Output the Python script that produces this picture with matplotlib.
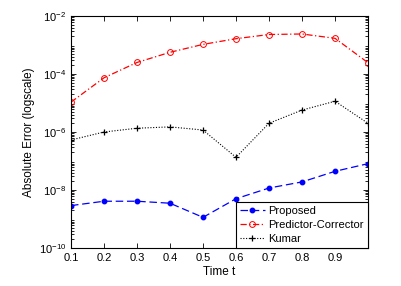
import math
import matplotlib
matplotlib.use("Agg")
import matplotlib.pyplot as plt
from matplotlib.ticker import LogLocator, NullFormatter

plt.rcParams['font.family'] = ['Liberation Sans', 'DejaVu Sans']
plt.rcParams['mathtext.default'] = 'regular'

t = [0.1, 0.2, 0.3, 0.4, 0.5, 0.6, 0.7, 0.8, 0.9, 1.0]
proposed = [2.9e-9, 4.1e-9, 4.1e-9, 3.5e-9, 1.14e-9, 5.0e-9, 1.17e-8, 1.9e-8, 4.4e-8, 8.1e-8]
pred_corr = [1.07e-5, 7.4e-5, 2.5e-4, 5.6e-4, 1.05e-3, 1.65e-3, 2.3e-3, 2.4e-3, 1.7e-3, 2.45e-4]
kumar = [5.3e-7, 1.0e-6, 1.35e-6, 1.5e-6, 1.17e-6, 1.34e-7, 2.0e-6, 5.7e-6, 1.15e-5, 2.0e-6]
xticks = [0.1, 0.2, 0.3, 0.4, 0.5, 0.6, 0.7, 0.8, 0.9]
yticks = [1e-10, 1e-8, 1e-6, 1e-4, 1e-2]

fig = plt.figure(figsize=(4.02, 2.86), dpi=100)
ax = fig.add_axes([71/402, 1-248/286, (368-71)/402, (248-16)/286])

ax.plot(t, proposed, color='blue', linestyle=(0, (6, 3)), linewidth=0.9,
        marker='o', markersize=3.2, markerfacecolor='blue', markeredgecolor='blue',
        label='Proposed')
ax.plot(t, pred_corr, color='red', linestyle=(0, (5, 2, 1, 2)), linewidth=0.9,
        marker='o', markersize=4.2, markerfacecolor='none', markeredgecolor='red',
        markeredgewidth=0.7, label='Predictor-Corrector')
ax.plot(t, kumar, color='black', linestyle=(0, (1, 1.5)), linewidth=0.8,
        marker='+', markersize=5, markeredgewidth=0.9, label='Kumar')

ax.set_yscale('log')
ax.set_xlim(0.1, 1.0)
ax.set_ylim(1e-10, 1e-2)
ax.set_xticks(xticks)
ax.set_xticklabels([f'{v:g}' for v in xticks])
ax.set_yticks(yticks)
ax.set_yticklabels([r'$10^{%d}$' % int(round(math.log10(v))) for v in yticks])
ax.yaxis.set_minor_locator(LogLocator(base=10, subs=range(2, 10), numticks=100))
ax.yaxis.set_minor_formatter(NullFormatter())

ax.tick_params(which='both', direction='in', top=True, right=True, labelsize=8, width=0.6)
ax.tick_params(which='major', length=3.5)
ax.tick_params(which='minor', length=2)
for s in ax.spines.values():
    s.set_linewidth(0.8)

ax.set_xlabel('Time t', fontsize=8.5, labelpad=2)
ax.set_ylabel('Absolute Error (logscale)', fontsize=8.5, labelpad=3)

leg = ax.legend(loc='lower right', fontsize=8, borderaxespad=0, fancybox=False,
                edgecolor='black', framealpha=1, handlelength=2.3, handletextpad=0.3,
                borderpad=0.35, labelspacing=0.35)
leg.get_frame().set_linewidth(0.8)

fig.savefig('out.png', dpi=100)
